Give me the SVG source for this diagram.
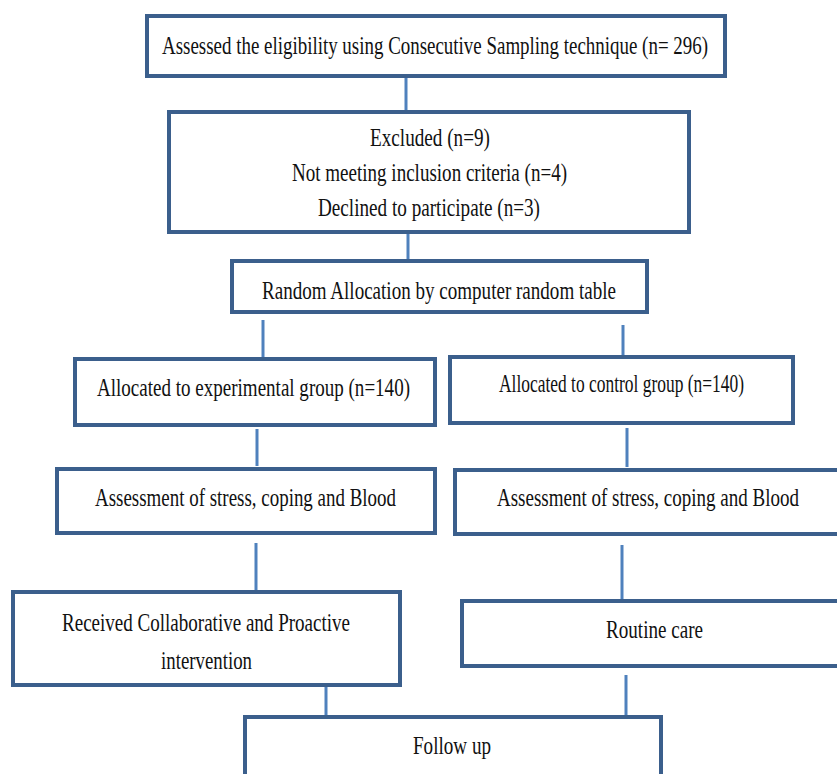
<svg xmlns="http://www.w3.org/2000/svg" width="837" height="774" viewBox="0 0 837 774">
<style>
.box{fill:#fff;stroke:#3b5f8c;stroke-width:4}
.t{font-family:"Liberation Serif","Times New Roman",serif;font-size:26px;fill:#111;text-anchor:start}
.c{stroke:#4f81bd;stroke-width:3;fill:none}
</style>
<rect width="837" height="774" fill="#fff"/>
<g id="connectors">
<line class="c" x1="406" y1="78" x2="406" y2="110"/>
<line class="c" x1="408" y1="234" x2="408" y2="259"/>
<line class="c" x1="263" y1="320" x2="263" y2="357"/>
<line class="c" x1="623" y1="325" x2="623" y2="355"/>
<line class="c" x1="257" y1="429" x2="257" y2="466"/>
<line class="c" x1="627" y1="428" x2="627" y2="467"/>
<line class="c" x1="256" y1="543" x2="256" y2="590"/>
<line class="c" x1="622" y1="545" x2="622" y2="599"/>
<line class="c" x1="326" y1="687" x2="326" y2="715"/>
<line class="c" x1="626" y1="675" x2="626" y2="715"/>
</g>
<g id="n1">
<rect class="box" x="147" y="16" width="578" height="60"/>
<text class="t" x="162" y="54" textLength="546" lengthAdjust="spacingAndGlyphs">Assessed the eligibility using Consecutive Sampling technique (n= 296)</text>
</g>
<g id="n2">
<rect class="box" x="169" y="112" width="520" height="120"/>
<text class="t" x="370" y="146" textLength="120" lengthAdjust="spacingAndGlyphs">Excluded (n=9)</text>
<text class="t" x="292" y="181" textLength="275" lengthAdjust="spacingAndGlyphs">Not meeting inclusion criteria (n=4)</text>
<text class="t" x="318" y="216" textLength="222" lengthAdjust="spacingAndGlyphs">Declined to participate (n=3)</text>
</g>
<g id="n3">
<rect class="box" x="232" y="261" width="415" height="51"/>
<text class="t" x="262" y="299" textLength="354" lengthAdjust="spacingAndGlyphs">Random Allocation by computer random table</text>
</g>
<g id="n4">
<rect class="box" x="75" y="359" width="360" height="66"/>
<text class="t" x="97" y="396" textLength="313" lengthAdjust="spacingAndGlyphs">Allocated to experimental group (n=140)</text>
</g>
<g id="n5">
<rect class="box" x="450" y="357" width="343" height="66"/>
<text class="t" x="499" y="392" textLength="245" lengthAdjust="spacingAndGlyphs">Allocated to control group (n=140)</text>
</g>
<g id="n6">
<rect class="box" x="57" y="469" width="378" height="64"/>
<text class="t" x="95" y="506" textLength="301" lengthAdjust="spacingAndGlyphs">Assessment of stress, coping and Blood</text>
</g>
<g id="n7">
<rect class="box" x="455" y="470" width="400" height="64"/>
<text class="t" x="497" y="506" textLength="302" lengthAdjust="spacingAndGlyphs">Assessment of stress, coping and Blood</text>
</g>
<g id="n8">
<rect class="box" x="13" y="592" width="387" height="93"/>
<text class="t" x="62" y="631" textLength="288" lengthAdjust="spacingAndGlyphs">Received Collaborative and Proactive</text>
<text class="t" x="161" y="669" textLength="91" lengthAdjust="spacingAndGlyphs">intervention</text>
</g>
<g id="n9">
<rect class="box" x="462" y="601" width="400" height="65"/>
<text class="t" x="606" y="638" textLength="97" lengthAdjust="spacingAndGlyphs">Routine care</text>
</g>
<g id="n10">
<rect class="box" x="245" y="717" width="416" height="80"/>
<text class="t" x="413" y="754" textLength="78" lengthAdjust="spacingAndGlyphs">Follow up</text>
</g>
</svg>
